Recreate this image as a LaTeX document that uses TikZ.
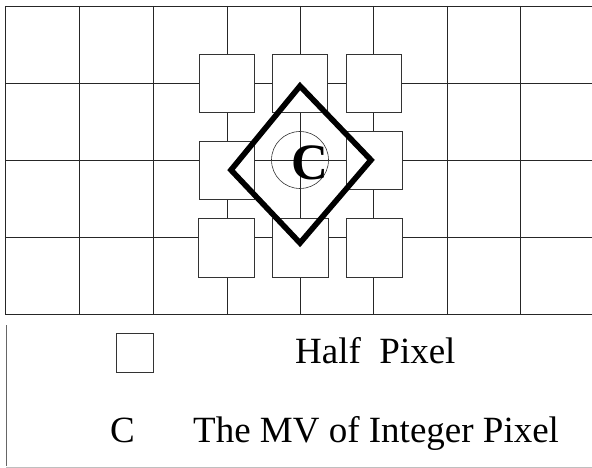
\documentclass[tikz,border=0pt]{standalone}
\usepackage{fontspec}
\setmainfont{Liberation Serif}
\begin{document}
\begin{tikzpicture}[x=1pt,y=-1pt,
  gridline/.style={line width=0.8pt, draw=black!85},
  hp/.style={draw=black!80, fill=white, line width=0.7pt, inner sep=0pt,
             minimum width=55pt, minimum height=58pt},
  ring/.style={draw=black!80, circle, line width=0.6pt, inner sep=0pt, minimum size=57pt},
  diam/.style={line width=5.6pt, line join=miter, draw=black},
  lab/.style={inner sep=0pt, anchor=base west, font=\fontsize{37}{40}\selectfont},
  bigc/.style={inner sep=0pt, font=\fontsize{51}{54}\selectfont\bfseries}
]
\useasboundingbox (0,0) rectangle (592,468);
% grid
\foreach \x in {5,79,153,227,300,373,447,520}
  \draw[gridline] (\x,6) -- (\x,314);
\foreach \y in {6,83,160,237,314}
  \draw[gridline] (5,\y) -- (592,\y);
% half pixel squares
\node[hp] (t1) at (226.5,83) {};
\node[hp] (t2) at (299.5,83) {};
\node[hp] (t3) at (374,83) {};
\node[hp] (m1) at (226.5,170) {};
\node[hp, minimum width=56pt] (m3) at (374,160) {};
\node[hp, minimum width=56pt, minimum height=59pt] (b1) at (226,247.5) {};
\node[hp, minimum width=56pt, minimum height=59pt] (b2) at (300,247.5) {};
\node[hp, minimum width=56pt, minimum height=59pt] (b3) at (374,247.5) {};
% circle and C
\node[ring] (ring) at (300,160) {};
\node[bigc] (cl) at (310,163) {C};
% diamond
\coordinate (dt) at (300,86);
\coordinate (dr) at (371,160);
\coordinate (db) at (300,243);
\coordinate (dl) at (231,170);
\draw[diam] (dt) -- (dr) -- (db) -- (dl) -- cycle;
% legend
\draw[line width=0.7pt, draw=black!60] (6,325) -- (6,466);
\draw[line width=0.7pt, draw=black!25] (6,467) -- (592,467);
\node[hp, minimum width=37pt, minimum height=39pt] (lsq) at (134.5,352.5) {};
\node[lab] (lhp) at (295,363) {Half\ \ Pixel};
\node[lab] (lc) at (110,442) {C};
\node[lab] (lmv) at (193,442) {The MV of Integer Pixel};
\end{tikzpicture}
\end{document}
